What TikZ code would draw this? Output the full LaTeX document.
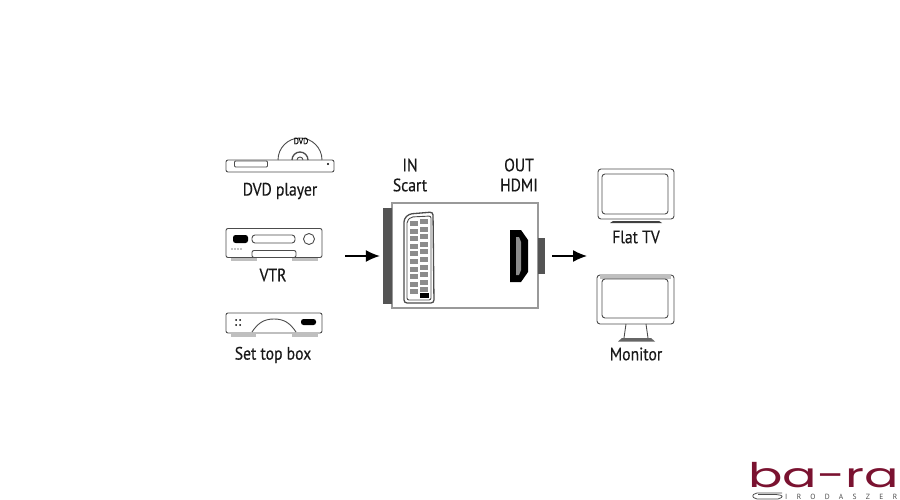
\documentclass[tikz,border=0pt]{standalone}
\usepackage{fontspec}
\setmainfont{PT Sans}[FakeStretch=0.87,FakeBold=0.4]
\newfontfamily\logofont{Poppins}[FakeStretch=1.5]
\newfontfamily\subfont{PT Sans}[LetterSpace=125]
\usetikzlibrary{positioning,arrows.meta}
\definecolor{plategray}{gray}{0.33}
\definecolor{footgray}{gray}{0.75}
\definecolor{logored}{HTML}{7A1230}
\tikzset{
  ink/.style={draw=black!70,line width=0.9pt},
  devbox/.style={ink,rounded corners=2pt,inner sep=0pt},
  pill/.style={fill=black,rounded corners=2.5pt,inner sep=0pt},
  plate/.style={fill=plategray,inner sep=0pt},
  foot/.style={fill=footgray,inner sep=0pt,minimum height=3pt},
  lbl/.style={font=\fontsize{18}{20}\selectfont,inner sep=0pt,text=black!90},
  flow/.style={line width=1.3pt,-{Latex[length=14pt,width=12pt]}},
}
\begin{document}
\begin{tikzpicture}[x=1pt,y=-1pt]
   \useasboundingbox (0,0) rectangle (900,500);
   % dvd player
   \draw[ink] (278,160) arc[start angle=180,end angle=0,radius=22pt];
   \draw[ink,line width=1.3pt] (300,160) ++(-8,0) arc[start angle=180,end angle=0,radius=8pt];
   \draw[ink] (300,160) ++(-3,0) arc[start angle=180,end angle=0,radius=3pt];
   \node[font=\fontsize{9}{10}\selectfont,inner sep=0pt] (dvd_logo) at (301,141) {DVD};
   \node[devbox,minimum width=108pt,minimum height=12pt] (dvd) at (280,166) {};
   \node[devbox,rounded corners=1pt,minimum width=33pt,minimum height=6pt] (dvd_slot) at (251,164) {};
   \fill (328,164) circle[radius=1.2pt];
   \node[lbl] (dvd_lbl) at (280,191) {DVD player};
   % vtr
   \node[foot,minimum width=26pt] (vtr_foot1) at (244,259) {};
   \node[foot,minimum width=26pt] (vtr_foot2) at (305,259) {};
   \node[devbox,minimum width=96pt,minimum height=29pt,fill=white] (vtr) at (274,243) {};
   \node[pill,minimum width=15pt,minimum height=8pt] (vtr_pill) at (240.5,239) {};
   \node[devbox,rounded corners=3pt,minimum width=43pt,minimum height=8pt] (vtr_slot) at (273.5,239) {};
   \node[ink,circle,minimum size=11pt,inner sep=0pt] (vtr_dial) at (309,239) {};
   \node[devbox,fill=white,minimum width=44pt,minimum height=7pt] (vtr_flap) at (274,254) {};
   \foreach \x in {232,235,238,241} \fill (\x,249) circle[radius=0.7pt];
   \node[lbl] (vtr_lbl) at (273,275) {VTR};
   % set top box
   \node[foot,minimum width=25pt] (stb_foot1) at (243.5,335.5) {};
   \node[foot,minimum width=26pt] (stb_foot2) at (305,335.5) {};
   \node[devbox,minimum width=96pt,minimum height=20pt,fill=white] (stb) at (274,323) {};
   \draw[ink] (252,332) .. controls (258,323) and (264,319) .. (274,319) .. controls (284,319) and (290,323) .. (296,332);
   \node[pill,minimum width=15pt,minimum height=6pt] (stb_pill) at (308.5,322) {};
   \foreach \x in {236,240} \foreach \y in {320,325} \fill (\x,\y) circle[radius=1pt];
   \node[lbl] (stb_lbl) at (273,355) {Set top box};
   % adapter
   \node[ink,draw=black!40,line width=1.2pt,minimum width=146pt,minimum height=105pt,inner sep=0pt] (adapter) at (465,255.5) {};
   \node[plate,minimum width=9pt,minimum height=96pt] (in_plate) at (387.5,256) {};
   \node[plate,minimum width=7pt,minimum height=36pt] (out_plate) at (541.5,256) {};
   \node[lbl] (in_lbl) at (410,165) {IN};
   \node[lbl] (scart_lbl) at (410,185) {Scart};
   \node[lbl] (out_lbl) at (519,165) {OUT};
   \node[lbl] (hdmi_lbl) at (519,185) {HDMI};
   % scart socket
   \draw[ink,line width=1.3pt,rounded corners=3pt] (404,219) -- (409,214) -- (433,212) -- (434,303) -- (404,303) -- cycle;
   \draw[ink,rounded corners=2pt] (407,221) -- (411,217) -- (431,216) -- (431,300) -- (407,300) -- cycle;
   \foreach \y in {0,...,9} {
     \fill[black!45] (410,221+\y*7.6) rectangle ++(8,5);
     \fill[black!45] (420,219+\y*7.6) rectangle ++(8,5);
   }
   \fill[black] (420,293) rectangle ++(9,5);
   % hdmi socket
   \fill[black] (510,230) -- (521,230) -- (528,240) -- (528,272) -- (521,282) -- (510,282) -- cycle;
   \fill[black!45] (516,237) -- (519,237) -- (521,242) -- (521,270) -- (519,275) -- (516,275) -- cycle;
   % flat tv
   \node[devbox,rounded corners=3pt,minimum width=76pt,minimum height=50pt] (flat) at (636,194) {};
   \node[devbox,rounded corners=3pt,minimum width=66pt,minimum height=40pt] (flat_in) at (635,194) {};
   \fill[black!75] (610,223) -- (613,221) -- (659,221) -- (662,223) -- cycle;
   \node[lbl] (flat_lbl) at (636,237) {Flat TV};
   % monitor
   \node[devbox,rounded corners=3pt,minimum width=77pt,minimum height=49pt] (mon) at (635.5,299.5) {};
   \fill[footgray] (600,276) rectangle (671,279);
   \node[devbox,rounded corners=3pt,minimum width=66pt,minimum height=39pt] (mon_in) at (635,298.5) {};
   \draw[ink] (626,324) -- (624,338) (646,324) -- (648,338);
   \fill[black!60] (618,341.5) -- (622,338) -- (651,338) -- (655,341.5) -- cycle;
   \node[lbl] (mon_lbl) at (636,354) {Monitor};
   % arrows
   \coordinate (in_start) at (345,256);
   \coordinate (out_start) at (552,256);
   \coordinate (out_end) at (587,256);
   \draw[flow,shorten >=3pt] (in_start) -- (in_plate.west);
   \draw[flow] (out_start) -- (out_end);
   % logo
   \node[font=\logofont\fontsize{34}{36}\selectfont,text=logored,inner sep=0pt,anchor=base west] (logo) at (748,487) {ba-ra};
   \node[font=\subfont\fontsize{7.5}{8}\selectfont,text=black!70,inner sep=0pt,anchor=base west] (logo_sub) at (785,499) {IRODASZER};
   \draw[draw=black!70,line width=0.8pt,rounded corners=2pt] (782,493) -- (755,493) -- (752,496) -- (755,499) -- (780,499) -- (783,496) -- (778,494.5) -- (758,494.5);
\end{tikzpicture}
\end{document}
